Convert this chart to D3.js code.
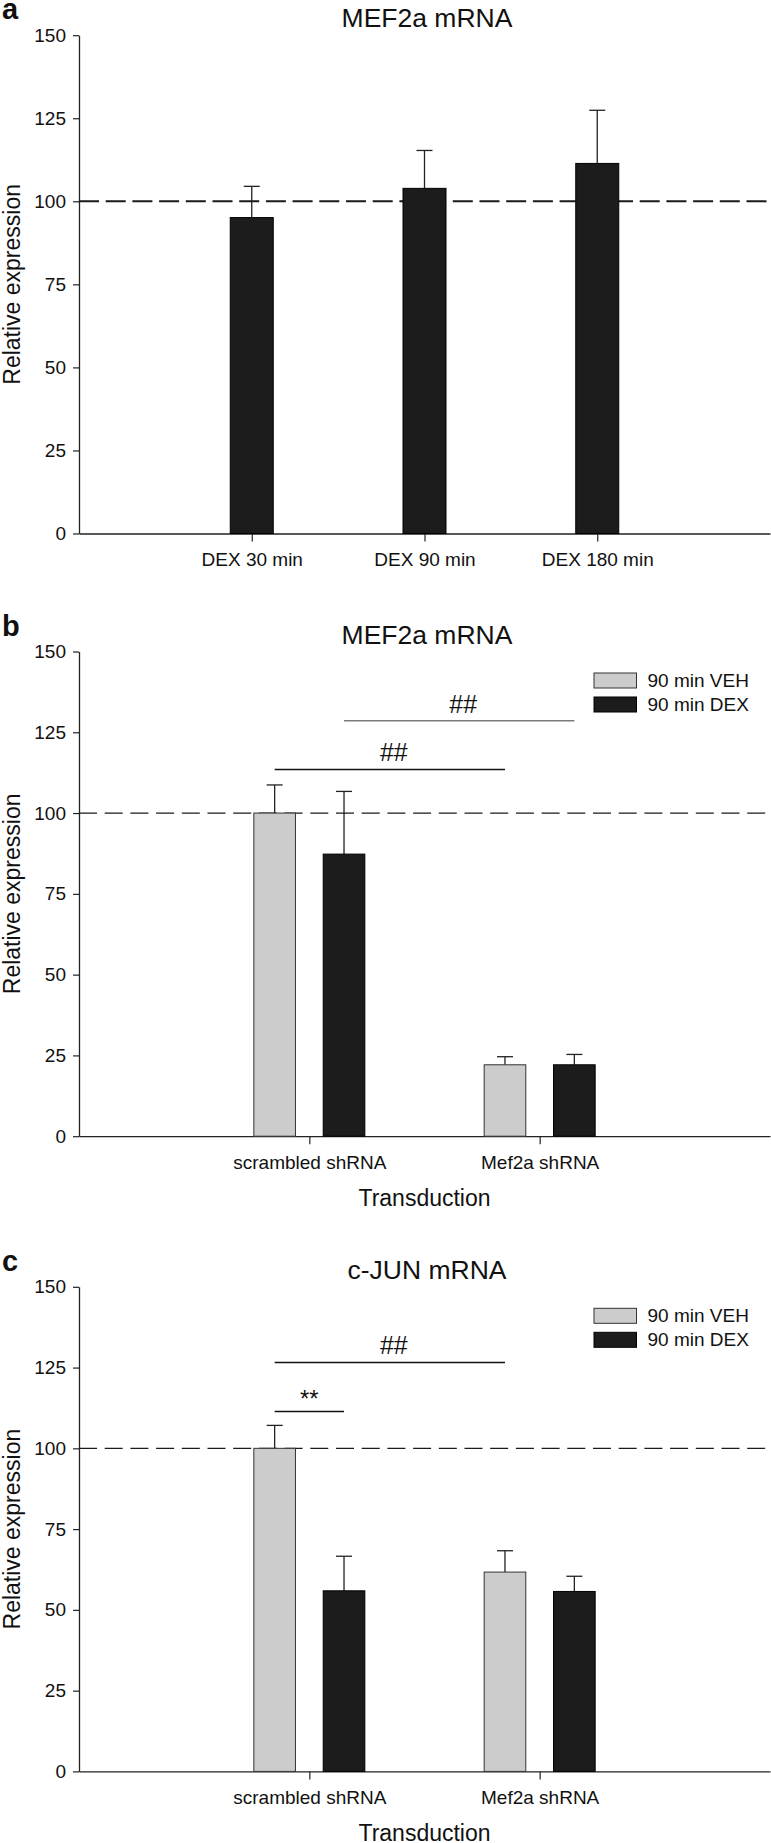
<!DOCTYPE html>
<html>
<head>
<meta charset="utf-8">
<script src="https://cdn.jsdelivr.net/npm/d3@7"></script>
<style>
  html, body { margin: 0; padding: 0; background: #fff; }
  svg text { font-family: "Liberation Sans", Arial, Helvetica, sans-serif; fill: #111; }
</style>
</head>
<body>
<svg id="chart" width="771" height="1843"></svg>
<script>
// ---------------- data ----------------
const yTicks = [0, 25, 50, 75, 100, 125, 150];

// Panel a
const catsA = ["DEX 30 min", "DEX 90 min", "DEX 180 min"];
const meansA = [95.1, 103.9, 111.4];
const semA = [9.4, 11.4, 16.0];

// Panels b and c
const catsBC = ["scrambled shRNA", "Mef2a shRNA"];
const seriesNames = ["90 min VEH", "90 min DEX"];

const vehB = [100, 22.1];
const semVehB = [8.7, 2.5];
const dexB = [87.3, 22.1];
const semDexB = [19.4, 3.2];

const vehC = [100, 61.7];
const semVehC = [7.1, 6.6];
const dexC = [55.9, 55.7];
const semDexC = [10.7, 4.7];

// significance brackets: [catFrom, seriesFrom, catTo, seriesTo, value, label]
const sigB = [
  [0, 1, 1, 1, 128.6, "##"],
  [0, 0, 1, 0, 113.5, "##"]
];
const sigC = [
  [0, 0, 1, 0, 126.6, "##"],
  [0, 0, 0, 1, 111.4, "**"]
];

// ---------------- layout ----------------
const svg = d3.select("#chart");
const X0 = 79, X1 = 770;
const VEH_FILL = "#cccccc", DEX_FILL = "#1c1c1c";

function yAxisAndFrame(g, y, xAxisScale, letter, title, xTitle, dashW, dashArr) {
  const ya = g.append("g").attr("transform", `translate(${X0},0)`)
    .call(d3.axisLeft(y).tickValues(yTicks).tickSize(6).tickSizeOuter(0).tickPadding(7));
  ya.selectAll("text").style("font-size", "19px").attr("fill", "#111");
  ya.selectAll("line").attr("stroke", "#222").attr("stroke-width", 1.2);
  ya.select(".domain").attr("stroke", "#222").attr("stroke-width", 1.3);

  const xa = g.append("g").attr("transform", `translate(0,${y(0)})`)
    .call(d3.axisBottom(xAxisScale).tickSize(8).tickSizeOuter(0).tickPadding(11));
  xa.selectAll("text").style("font-size", "19px").attr("fill", "#111");
  xa.selectAll("line").attr("stroke", "#222").attr("stroke-width", 1.2);
  xa.select(".domain").attr("stroke", "#222").attr("stroke-width", 1.3);

  g.append("line")
    .attr("x1", X0).attr("x2", X1)
    .attr("y1", y(100)).attr("y2", y(100))
    .attr("stroke", "#1a1a1a").attr("stroke-width", dashW)
    .attr("stroke-dasharray", dashArr);

  g.append("text").attr("x", 2).attr("y", y(150) - 16)
    .style("font-size", "29px").style("font-weight", "bold").text(letter);

  g.append("text").attr("x", 427).attr("y", y(150) - 8)
    .attr("text-anchor", "middle").style("font-size", "26.5px").text(title);

  g.append("text")
    .attr("transform", `translate(20,${y(75)}) rotate(-90)`)
    .attr("text-anchor", "middle").style("font-size", "23px").text("Relative expression");

  if (xTitle) {
    g.append("text").attr("x", (X0 + X1) / 2).attr("y", y(0) + 70)
      .attr("text-anchor", "middle").style("font-size", "23px").text(xTitle);
  }
}

function errorBar(g, cx, yTop, yErr) {
  g.append("line").attr("x1", cx).attr("x2", cx).attr("y1", yTop).attr("y2", yErr)
    .attr("stroke", "#222").attr("stroke-width", 1.3);
  g.append("line").attr("x1", cx - 8).attr("x2", cx + 8).attr("y1", yErr).attr("y2", yErr)
    .attr("stroke", "#222").attr("stroke-width", 1.3);
}

// ---------------- Panel a ----------------
(function () {
  const g = svg.append("g");
  const y = d3.scaleLinear().domain([0, 150]).range([533.5, 35.2]);
  const x = d3.scalePoint().domain(catsA).range([X0, X1]).padding(1);
  const bw = 43;
  const errs = g.append("g");
  yAxisAndFrame(g, y, x, "a", "MEF2a mRNA", null, 2, "20,6.7");
  catsA.forEach((c, i) => {
    errorBar(errs, x(c), y(meansA[i]), y(meansA[i] + semA[i]));
  });
  const barLayer = g.append("g");
  barLayer.selectAll("rect").data(catsA).join("rect")
    .attr("x", d => x(d) - bw / 2)
    .attr("width", bw)
    .attr("y", (d, i) => y(meansA[i]))
    .attr("height", (d, i) => y(0) - y(meansA[i]))
    .attr("fill", DEX_FILL).attr("stroke", "#000").attr("stroke-width", 1);
})();

// ---------------- Panels b & c ----------------
function groupedPanel(cfg) {
  const g = svg.append("g");
  const y = d3.scaleLinear().domain([0, 150]).range(cfg.yRange);
  const x = d3.scalePoint().domain(catsBC).range([X0, X1]).padding(1);
  const sub = d3.scaleBand().domain(seriesNames).range([-55.5, 55.5]).paddingInner(0.4).paddingOuter(0);
  const bw = sub.bandwidth();
  const vals = [cfg.veh, cfg.dex];
  const sems = [cfg.semVeh, cfg.semDex];
  const fills = [VEH_FILL, DEX_FILL];
  const strokes = ["#333", "#000"];

  const errs = g.append("g");
  yAxisAndFrame(g, y, x, cfg.letter, cfg.title, "Transduction", 1.2, "18,7.7");

  const cxOf = (ci, si) => x(catsBC[ci]) + sub(seriesNames[si]) + bw / 2;

  seriesNames.forEach((s, si) => {
    catsBC.forEach((c, ci) => {
      errorBar(errs, cxOf(ci, si), y(vals[si][ci]), y(vals[si][ci] + sems[si][ci]));
    });
  });

  const barLayer = g.append("g");
  seriesNames.forEach((s, si) => {
    barLayer.append("g").selectAll("rect").data(catsBC).join("rect")
      .attr("x", d => x(d) + sub(s))
      .attr("width", bw)
      .attr("y", (d, ci) => y(vals[si][ci]))
      .attr("height", (d, ci) => y(0) - y(vals[si][ci]))
      .attr("fill", fills[si]).attr("stroke", strokes[si]).attr("stroke-width", 1);
  });

  cfg.sig.forEach(([c0, s0, c1, s1, v, lab], k) => {
    const xa = cxOf(c0, s0), xb = cxOf(c1, s1);
    const col = cfg.sigColors[k];
    g.append("line").attr("x1", xa).attr("x2", xb).attr("y1", y(v)).attr("y2", y(v))
      .attr("stroke", col).attr("stroke-width", 1.5);
    g.append("text").attr("x", (xa + xb) / 2 + (lab === "##" ? 4 : 0))
      .attr("y", y(v) - (lab === "##" ? 8 : 5))
      .attr("text-anchor", "middle")
      .style("font-size", lab === "##" ? "25px" : "24px").text(lab);
  });

  const lg = g.append("g").attr("transform", `translate(594,${y(150) + 21.5})`);
  seriesNames.forEach((s, si) => {
    lg.append("rect").attr("x", 0).attr("y", si * 24).attr("width", 42.5).attr("height", 15)
      .attr("fill", fills[si]).attr("stroke", strokes[si]).attr("stroke-width", 1);
    lg.append("text").attr("x", 53.5).attr("y", si * 24 + 7.5).attr("dy", "0.35em")
      .style("font-size", "19px").text(s);
  });
}

groupedPanel({
  letter: "b", title: "MEF2a mRNA", yRange: [1136.2, 651.5],
  veh: vehB, semVeh: semVehB, dex: dexB, semDex: semDexB,
  sig: sigB, sigColors: ["#7a7a7a", "#111"]
});
groupedPanel({
  letter: "c", title: "c-JUN mRNA", yRange: [1771.4, 1286.8],
  veh: vehC, semVeh: semVehC, dex: dexC, semDex: semDexC,
  sig: sigC, sigColors: ["#111", "#111"]
});
</script>
</body>
</html>
